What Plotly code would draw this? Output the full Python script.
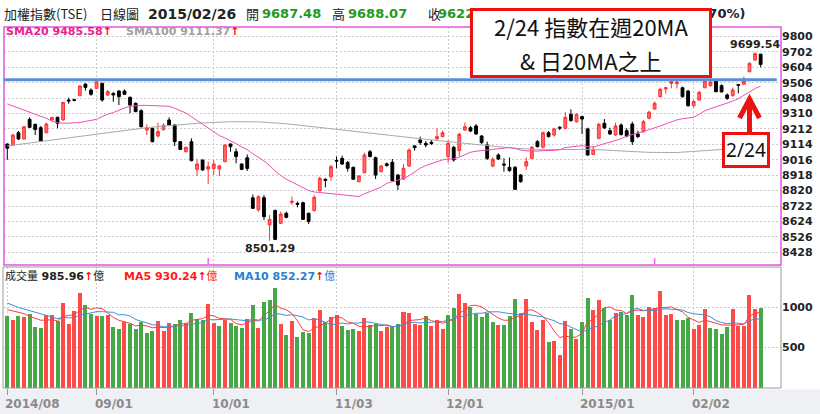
import plotly.graph_objects as go

# ---------------- data ----------------
opens = [9116, 9110, 9188, 9148, 9273, 9241, 9220, 9188, 9269, 9286,
         9269, 9396, 9398, 9423, 9497, 9459, 9470, 9502, 9428, 9438,
         9453, 9453, 9413, 9375, 9328, 9205, 9216, 9167, 9209, 9269,
         9237, 9131, 9067, 9131, 8955, 9014, 8957, 8961, 8957, 9004,
         9116, 9067, 8989, 9029, 8774, 8697, 8775, 8602, 8693, 8612,
         8676, 8745, 8739, 8743, 8676, 8693, 8820, 8892, 8909, 9012,
         9025, 8998, 8968, 8877, 8934, 9067, 9029, 8941, 8990, 9000,
         8919, 8894, 8976, 9104, 9142, 9120, 9127, 9148, 9163, 9036,
         9095, 9074, 9205, 9220, 9231, 9167, 9110, 8976, 9046, 8989,
         8968, 8968, 8919, 8976, 9025, 9131, 9095, 9188, 9173, 9222,
         9216, 9305, 9258, 9290, 9212, 9050, 9152, 9248, 9201, 9174,
         9237, 9201, 9243, 9180, 9195, 9280, 9339, 9417, 9466, 9502,
         9500, 9474, 9453, 9360, 9396, 9474, 9487, 9517, 9487, 9428,
         9424, 9494, 9496, 9576, 9650, 9687.48]
highs = [9120, 9180, 9199, 9230, 9286, 9246, 9231, 9252, 9290, 9290,
         9384, 9410, 9403, 9490, 9502, 9470, 9523, 9505, 9460, 9445,
         9458, 9463, 9418, 9380, 9337, 9241, 9220, 9252, 9248, 9286,
         9241, 9135, 9100, 9152, 9019, 9018, 9004, 9014, 8985, 9114,
         9120, 9088, 8993, 9050, 8795, 8790, 8792, 8665, 8700, 8686,
         8686, 8781, 8750, 8750, 8680, 8792, 8909, 8898, 8983, 9036,
         9042, 9008, 8972, 8919, 9061, 9078, 9036, 8983, 8998, 9021,
         8925, 8989, 9088, 9110, 9163, 9135, 9142, 9216, 9201, 9142,
         9104, 9188, 9252, 9231, 9243, 9173, 9131, 9032, 9057, 9025,
         9031, 8976, 8925, 9031, 9104, 9142, 9195, 9199, 9220, 9231,
         9318, 9337, 9311, 9296, 9220, 9104, 9252, 9275, 9220, 9252,
         9248, 9216, 9258, 9201, 9269, 9328, 9386, 9474, 9481, 9523,
         9520, 9481, 9460, 9396, 9453, 9523, 9523, 9523, 9496, 9438,
         9475, 9496, 9545, 9636, 9699.54, 9688.07]
lows = [9015, 9104, 9141, 9145, 9218, 9173, 9131, 9184, 9265, 9216,
        9266, 9372, 9388, 9420, 9455, 9423, 9466, 9385, 9420, 9385,
        9364, 9428, 9311, 9318, 9222, 9173, 9127, 9158, 9201, 9231,
        9103, 9078, 9063, 9006, 8913, 8947, 8862, 8919, 8913, 9000,
        9067, 8993, 8950, 8945, 8703, 8686, 8633, 8501.29, 8505, 8608,
        8644, 8729, 8714, 8633, 8608, 8686, 8813, 8841, 8883, 8962,
        8983, 8941, 8888, 8871, 8930, 9031, 8894, 8934, 8972, 8877,
        8824, 8888, 8972, 9074, 9110, 9095, 9110, 9146, 9159, 8998,
        9004, 9036, 9199, 9192, 9173, 9116, 9014, 8968, 9014, 8940,
        8940, 8824, 8870, 8951, 9019, 9095, 9088, 9157, 9163, 9205,
        9209, 9258, 9252, 9180, 9042, 9046, 9146, 9212, 9174, 9167,
        9170, 9159, 9110, 9153, 9188, 9273, 9333, 9413, 9438, 9470,
        9470, 9410, 9353, 9347, 9391, 9470, 9481, 9445, 9445, 9396,
        9417, 9438, 9492, 9572, 9645, 9604]
closes = [9089, 9173, 9148, 9226, 9222, 9209, 9135, 9243, 9284, 9248,
          9381, 9390, 9394, 9485, 9476, 9432, 9512, 9396, 9449, 9428,
          9417, 9432, 9364, 9322, 9226, 9220, 9131, 9195, 9235, 9237,
          9131, 9082, 9095, 9010, 8989, 8951, 8972, 8989, 8976, 9110,
          9099, 9036, 8955, 8961, 8707, 8781, 8654, 8637, 8510, 8671,
          8650, 8752, 8733, 8637, 8623, 8777, 8898, 8885, 8972, 9008,
          8989, 8962, 8892, 8913, 9046, 9036, 8919, 8976, 8980, 8883,
          8856, 8962, 9078, 9093, 9125, 9110, 9120, 9163, 9188, 9121,
          9015, 9178, 9226, 9199, 9180, 9125, 9025, 9019, 9021, 8983,
          8947, 8828, 8877, 9004, 9095, 9099, 9188, 9163, 9212, 9218,
          9286, 9265, 9305, 9275, 9046, 9082, 9241, 9218, 9180, 9231,
          9176, 9167, 9131, 9163, 9258, 9318, 9375, 9464, 9474, 9513,
          9510, 9417, 9360, 9386, 9445, 9515, 9510, 9449, 9447, 9407,
          9460, 9490, 9517, 9629, 9690, 9622.14]
volumes = [893, 844, 893, 873, 914, 754, 745, 897, 906, 832,
           1045, 791, 947, 1172, 1029, 914, 893, 893, 901, 754,
           733, 811, 791, 729, 815, 676, 700, 823, 700, 807,
           795, 840, 807, 930, 856, 840, 1037, 799, 762, 836,
           807, 758, 745, 856, 1029, 745, 1062, 1090, 1238, 791,
           647, 832, 626, 688, 680, 864, 959, 819, 873, 906,
           762, 713, 733, 696, 869, 778, 791, 708, 750, 754,
           795, 934, 926, 795, 774, 893, 762, 844, 721, 906,
           984, 1160, 1045, 1000, 918, 881, 926, 815, 778, 778,
           885, 1098, 926, 1103, 815, 713, 844, 565, 573, 401,
           832, 729, 606, 811, 1111, 967, 1090, 988, 844, 926,
           934, 906, 1152, 897, 873, 1000, 988, 1201, 906, 918,
           836, 836, 864, 733, 774, 979, 741, 733, 667, 754,
           975, 762, 770, 1152, 975, 985.96]

# moving-average values before enough bars are on screen
sma20_head = [9371, 9357, 9343, 9330, 9316, 9305, 9292, 9280, 9262, 9252,
              9248, 9249, 9251, 9253, 9260, 9266, 9273, 9290, 9306]
sma100_idx = [0, 5, 10, 15, 20, 25, 30, 35, 40, 45, 50, 55, 60, 65,
              70, 75, 80, 85, 90, 95, 100, 105, 110, 115, 120, 125, 130, 135]
sma100_val = [9104, 9128, 9150, 9175, 9196, 9220, 9236, 9250, 9258, 9257,
              9245, 9225, 9203, 9183, 9163, 9146, 9128, 9110, 9092, 9080,
              9079, 9082, 9072, 9063, 9062, 9072, 9086, 9111.37]
vma5_head = [967, 950, 934, 918]
vma10_head = [1049, 1020, 995, 975, 955, 930, 910, 893, 870]

tick_idx = [0, 16, 37, 59, 79, 103, 123]
tick_lab = ["2014/08", "09/01", "10/01", "11/03", "12/01", "2015/01", "02/02"]
price_ticks = list(range(8428, 9801, 98))
vol_ticks = [500, 1000]
resist_level = 9525
event_idx = [36, 116]
low_idx = 47
high_idx = 134
mark_idx = 133

# ---------------- derived ----------------
n = len(closes)
idx = list(range(n))
sma20 = sma20_head + [sum(closes[i - 19:i + 1]) / 20 for i in range(19, n)]
vma5 = vma5_head + [sum(volumes[i - 4:i + 1]) / 5 for i in range(4, n)]
vma10 = vma10_head + [sum(volumes[i - 9:i + 1]) / 10 for i in range(9, n)]
RED = "#ff4a4a"
GREEN = "#46a846"
vcolors = [GREEN] + [RED if closes[i] >= closes[i - 1] else GREEN for i in range(1, n)]

# ---------------- geometry helpers ----------------
W, H = 820, 414
ML, MR, MT, MB = 4, 39, 27, 26
PW, PH = W - ML - MR, H - MT - MB


def px(x):
    return (x - ML) / PW


def py(y):
    return (H - MB - y) / PH


XR = [-0.59, 138.65]
P_DOM = [py(265), 1.0]
V_DOM = [0.0, py(267)]

fig = go.Figure()

fig.add_trace(go.Scatter(x=sma100_idx, y=sma100_val, mode="lines",
                         line=dict(color="#a9a9a9", width=1), hoverinfo="skip",
                         xaxis="x", yaxis="y"))
fig.add_trace(go.Scatter(x=idx, y=sma20, mode="lines",
                         line=dict(color="#ef4fb0", width=1), hoverinfo="skip",
                         xaxis="x", yaxis="y"))
fig.add_trace(go.Candlestick(
    x=idx, open=opens, high=highs, low=lows, close=closes,
    increasing=dict(line=dict(color="#ff3030", width=1), fillcolor="#ff6a6a"),
    decreasing=dict(line=dict(color="#000000", width=1), fillcolor="#000000"),
    whiskerwidth=0, xaxis="x", yaxis="y"))

fig.add_trace(go.Bar(x=idx, y=volumes, width=0.72, marker=dict(color=vcolors, line=dict(width=0)),
                     xaxis="x2", yaxis="y2", hoverinfo="skip"))
fig.add_trace(go.Scatter(x=idx, y=vma5, mode="lines", line=dict(color="#ff3b3b", width=1),
                         xaxis="x2", yaxis="y2", hoverinfo="skip"))
fig.add_trace(go.Scatter(x=idx, y=vma10, mode="lines", line=dict(color="#3c8fd8", width=1),
                         xaxis="x2", yaxis="y2", hoverinfo="skip"))

GRID = "#cccccc"
FONT = "DejaVu Sans"
CJK = "Noto Sans CJK TC"

fig.update_layout(
    width=W, height=H, margin=dict(l=ML, r=MR, t=MT, b=MB),
    paper_bgcolor="white", plot_bgcolor="white", showlegend=False,
    boxgap=0.28,
    bargap=0,
    xaxis=dict(domain=[0, 1], range=XR, anchor="y", tickvals=tick_idx[1:], showticklabels=False,
               showgrid=True, gridcolor=GRID, griddash="2px,2px", zeroline=False,
               rangeslider=dict(visible=False), showline=False, fixedrange=True),
    yaxis=dict(domain=P_DOM, range=[8347, 9860], side="right", anchor="x",
               tickvals=price_ticks, ticktext=["<b>%d</b>" % t for t in price_ticks],
               tickfont=dict(family=FONT, size=11, color="#222"), automargin=False,
               showgrid=True, gridcolor=GRID, griddash="2px,2px", zeroline=False, ticks=""),
    xaxis2=dict(domain=[0, 1], range=XR, anchor="y2", tickvals=tick_idx, showticklabels=False,
                ticks="outside", ticklen=6, tickcolor="#999", tickwidth=1,
                showgrid=True, gridcolor=GRID, griddash="2px,2px", zeroline=False, showline=False),
    yaxis2=dict(domain=V_DOM, range=[-6, 1497], side="right", anchor="x2",
                tickvals=vol_ticks, ticktext=["<b>%d</b>" % t for t in vol_ticks],
                tickfont=dict(family=FONT, size=11, color="#222"), automargin=False,
                showgrid=True, gridcolor=GRID, griddash="2px,2px", zeroline=False),
)

shapes = []
# bottom grey strip
shapes.append(dict(type="rect", xref="paper", yref="paper", x0=px(0), x1=px(W), y0=py(H), y1=py(389.5),
                   fillcolor="#eef0f3", line=dict(width=0), layer="below"))
# pane borders
shapes.append(dict(type="rect", xref="paper", yref="paper", x0=0, x1=1, y0=P_DOM[0], y1=1,
                   line=dict(color="#e455e4", width=1.5), fillcolor="rgba(0,0,0,0)"))
shapes.append(dict(type="rect", xref="paper", yref="paper", x0=px(3), x1=1, y0=0, y1=V_DOM[1],
                   line=dict(color="#999999", width=1), fillcolor="rgba(0,0,0,0)"))
# resistance line
shapes.append(dict(type="line", xref="x", yref="y", x0=XR[0], x1=137.9, y0=resist_level, y1=resist_level,
                   line=dict(color="#5a8ed8", width=3)))
# event markers
for e in event_idx:
    shapes.append(dict(type="line", xref="x", yref="paper", x0=e, x1=e, y0=P_DOM[0], y1=py(258),
                       line=dict(color="#ee66ee", width=1.5)))
# red arrow pointing at the 2/24 candle (shaft + chevron head)
AR = "#ee1111"
shapes.append(dict(type="line", xref="x", yref="paper", x0=mark_idx, x1=mark_idx, y0=py(132), y1=py(101),
                   line=dict(color=AR, width=5)))
shapes.append(dict(type="path", xref="paper", yref="paper",
                   path="M %f %f L %f %f L %f %f" % (px(739.5), py(118), px(749.5), py(99),
                                                      px(759.5), py(118)),
                   line=dict(color=AR, width=5), fillcolor="rgba(0,0,0,0)"))
fig.update_layout(shapes=shapes)

ann = []


def txt(x, y, s, size=13, color="#222", family=CJK, xanchor="left", yanchor="middle"):
    ann.append(dict(x=px(x), y=py(y), xref="paper", yref="paper", text=s, showarrow=False,
                    xanchor=xanchor, yanchor=yanchor, font=dict(size=size, color=color, family=family)))


TG = "#1f9a1f"
txt(2, 14, "加權指數(TSE)", 13)
txt(98, 14, "日線圖", 13)
txt(146, 14, "<b>2015/02/26</b>", 14, family=FONT)
txt(244, 14, "開", 13)
txt(260, 14, "<b>9687.48</b>", 13, TG, FONT)
txt(330, 14, "高", 13)
txt(346, 14, "<b>9688.07</b>", 13, TG, FONT)
txt(426, 14, "收", 13)
txt(436, 14, "<b>9622.14</b>", 13, TG, FONT)
txt(747, 14, "<b>-67.40 (-0.70%)</b>", 13, "#222", FONT, xanchor="right")

UP = '<span style="color:#ff1010">↑</span>'
txt(4, 32, '<b><span style="color:#ea1e8e">SMA20 9485.58</span>' + UP + '</b>', 11, family=FONT)
txt(124, 32, '<b><span style="color:#a0a0a0">SMA100 9111.37</span>' + UP + '</b>', 11, family=FONT)

txt(3, 275, '<span style="font-family:Noto Sans CJK TC">成交量</span> <b>985.96</b><b>' + UP + '</b>'
    '<span style="font-family:Noto Sans CJK TC">億</span>', 11, "#222", FONT)
txt(122, 275, '<b><span style="color:#ff1a1a">MA5 930.24</span>' + UP + '</b>'
    '<span style="font-family:Noto Sans CJK TC;color:#ff1a1a">億</span>', 11, "#222", FONT)
txt(232, 275, '<b><span style="color:#2a7fd4">MA10 852.27</span>' + UP + '</b>'
    '<span style="font-family:Noto Sans CJK TC;color:#2a7fd4">億</span>', 11, "#222", FONT)

# x tick labels
for t, lab in zip(tick_idx, tick_lab):
    ann.append(dict(x=t, y=py(404), xref="x2", yref="paper", text="<b>%s</b>" % lab, showarrow=False,
                    xanchor="left", yanchor="middle", xshift=-4,
                    font=dict(size=12, color="#8a8a8a", family=FONT)))

# extremes
ann.append(dict(x=low_idx, y=lows[low_idx], xref="x", yref="y", text="<b>%.2f</b>" % lows[low_idx],
                showarrow=False, xanchor="center", yanchor="top", yshift=1,
                font=dict(size=11, color="#222", family=FONT)))
ann.append(dict(x=high_idx, y=highs[high_idx], xref="x", yref="y", text="<b>%.2f</b>" % highs[high_idx],
                showarrow=False, xanchor="center", yanchor="bottom", yshift=-1,
                font=dict(size=11, color="#222", family=FONT)))

# big note box (covers part of the title row)
ann.append(dict(x=px(591), y=py(43), xref="paper", yref="paper", text=" ", showarrow=False,
                width=236, height=64, bgcolor="white", bordercolor=AR, borderwidth=3,
                borderpad=0, xanchor="center", yanchor="middle", font=dict(size=10)))
txt(591, 26, "2/24 指數在週20MA", 22, "#111", CJK, xanchor="center")
txt(591, 60, "&amp; 日20MA之上", 22, "#111", CJK, xanchor="center")

# small date box under the arrow
ann.append(dict(x=px(746), y=py(150), xref="paper", yref="paper", text="2/24", showarrow=False,
                width=42, height=30, bgcolor="white", bordercolor=AR, borderwidth=3,
                borderpad=0, xanchor="center", yanchor="middle",
                font=dict(size=19, color="#111", family="Noto Sans")))

fig.update_layout(annotations=ann)
fig.write_html("out.html",
               config={"displayModeBar": False},
               post_script="document.body.style.margin='0';document.body.style.padding='0';"
                           "document.documentElement.style.overflow='hidden';")
